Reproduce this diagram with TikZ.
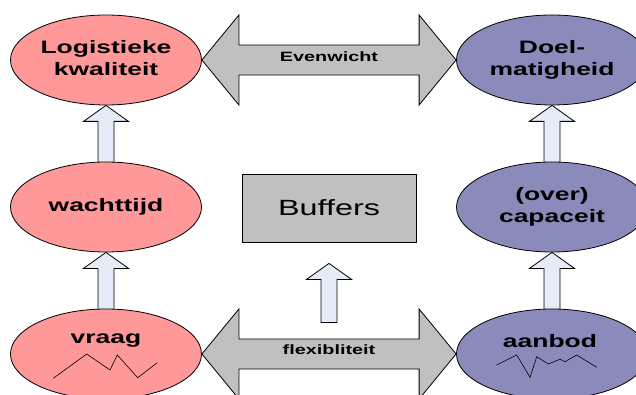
\documentclass[tikz,border=0pt]{standalone}
\usepackage{fontspec}
\setmainfont{Liberation Sans}
\usetikzlibrary{shapes.geometric,calc}

\definecolor{rosefill}{RGB}{255,153,153}
\definecolor{lilacfill}{RGB}{139,139,187}
\definecolor{greyfill}{RGB}{192,192,192}
\definecolor{liftfill}{RGB}{230,236,247}

% wide lettering used throughout
\newcommand{\widetext}[1]{\scalebox{1.47}[1]{#1}}
\newcommand{\twolines}[2]{\widetext{\fontsize{18}{22}\selectfont\bfseries
  \begin{tabular}{@{}c@{}}#1\\#2\end{tabular}}}

% hollow upward arrow from (#1) to the tip (#2)
\newcommand{\liftarrow}[2]{%
  \draw[liftstyle] ($(#1)+(-8,1)$) -- ($(#2)+(-8,16)$) -- ++(-14.5,0) -- (#2)
    -- ($(#2)+(22.5,16)$) -- ++(-14.5,0) -- ($(#1)+(8,1)$) -- cycle;}

\tikzset{
  x=1pt, y=-1pt,
  blob/.style={ellipse, draw=black, line width=0.8pt, minimum width=191,
    minimum height=90, inner sep=0pt},
  rose/.style={blob, fill=rosefill},
  lilac/.style={blob, fill=lilacfill},
  liftstyle/.style={draw=black, line width=0.8pt, fill=liftfill, line join=miter},
  twinarrow/.style={draw=black, line width=0.8pt, fill=greyfill, line join=miter},
  boxstyle/.style={draw=black, line width=0.8pt, fill=greyfill,
    minimum width=174, minimum height=68, inner sep=0pt},
  arrowlabel/.style={inner sep=0pt, font=\fontsize{13.5}{15}\selectfont\bfseries},
  ziggy/.style={draw=black, line width=0.6pt, line join=miter},
}

\begin{document}
\begin{tikzpicture}
\useasboundingbox (0,0) rectangle (636,395);
\clip (0,0) rectangle (636,395);
\fill[white] (0,0) rectangle (636,395);

% node positions (ellipses drawn later, over the arrows)
\path[use as bounding box=false]
  (106,60)  node[rose, draw=none, fill=none] (lk) {}
  (106,207) node[rose, draw=none, fill=none] (wt) {}
  (106,354) node[rose, draw=none, fill=none] (vr) {}
  (552,60)  node[lilac, draw=none, fill=none] (dm) {}
  (552,207) node[lilac, draw=none, fill=none] (oc) {}
  (552,354) node[lilac, draw=none, fill=none] (ab) {};

% double arrows
\draw[twinarrow] (lk.east) -- ++(37,-45) -- ++(0,30) -- ($(dm.west)+(-37,-15)$)
  -- ++(0,-30) -- (dm.west) -- ++(-37,45) -- ++(0,-30) -- ($(lk.east)+(37,15)$)
  -- ++(0,30) -- cycle;
\draw[twinarrow] (vr.east) -- ++(37,-45) -- ++(0,30) -- ($(ab.west)+(-37,-15)$)
  -- ++(0,-30) -- (ab.west) -- ++(-37,45) -- ++(0,-30) -- ($(vr.east)+(37,15)$)
  -- ++(0,30) -- cycle;
\node[arrowlabel] (even) at ($(lk.east)!0.5!(dm.west)+(0,-3)$) {\widetext{Evenwicht}};
\node[arrowlabel] (flex) at ($(vr.east)!0.5!(ab.west)+(0,-4)$) {\widetext{flexibliteit}};

% upward arrows between the ellipses
\liftarrow{wt.north}{lk.south}
\liftarrow{vr.north}{wt.south}
\liftarrow{oc.north}{dm.south}
\liftarrow{ab.north}{oc.south}

% ellipses
\node[rose]  at (lk) {\twolines{Logistieke}{kwaliteit}};
\node[rose]  at (wt) {\widetext{\fontsize{18}{22}\selectfont\bfseries wachttijd}};
\node[rose]  at (vr) {};
\node[lilac] at (dm) {\twolines{Doel-}{matigheid}};
\node[lilac] at (oc) {\twolines{(over)}{capaceit}};
\node[lilac] at (ab) {};

\node[anchor=base, inner sep=0pt] (vraag) at (106,343)
  {\widetext{\fontsize{18}{22}\selectfont\bfseries vraag}};
\node[anchor=base, inner sep=0pt] (aanbod) at (550,347)
  {\widetext{\fontsize{18}{22}\selectfont\bfseries aanbod}};

% demand and supply curves
\draw[ziggy] (53.3,378.3) -- (86.7,354) -- (110,370) -- (117.3,355)
  -- (137.7,377.7) -- (157.3,362.7);
\draw[ziggy] (496.7,365) -- (516.7,355) -- (530,377.3) -- (536.7,356.7)
  -- (548.3,364) -- (560,359.3) -- (565,361.7) -- (576.7,355) -- (596.7,367.3);

% buffers
\node[boxstyle] (buf) at (329,208)
  {\widetext{\fontsize{22}{26}\selectfont Buffers}};
\coordinate (liftTip) at ($(buf.south)+(0,21)$);
\coordinate (liftBase) at ($(buf.south)+(0,79)$);
\liftarrow{liftBase}{liftTip}
\end{tikzpicture}
\end{document}
